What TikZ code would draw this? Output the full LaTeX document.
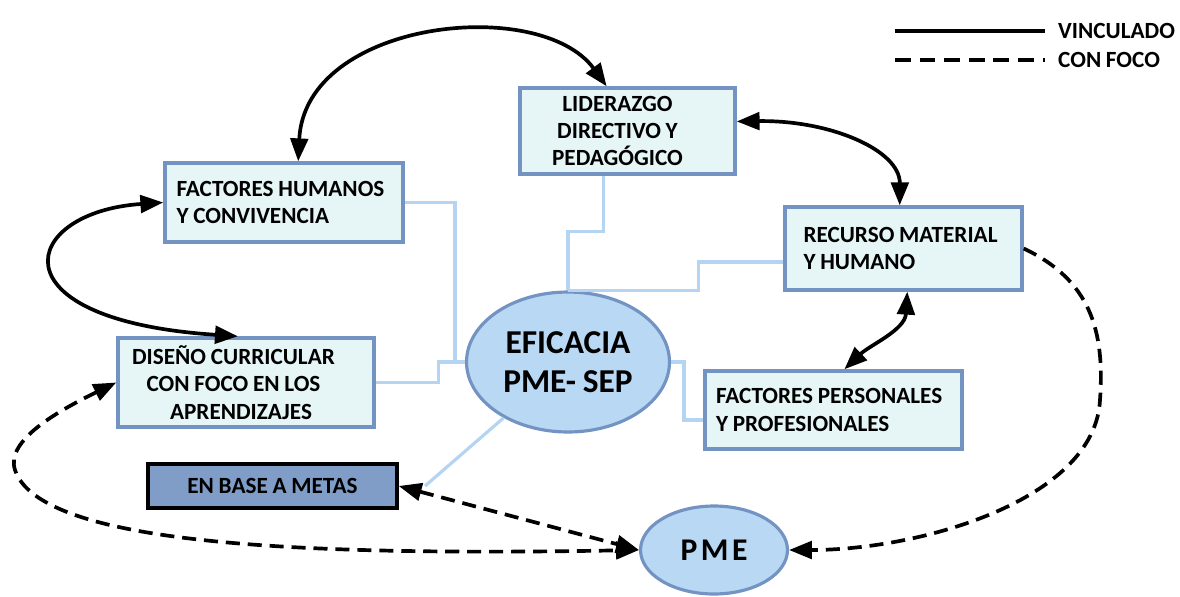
\documentclass[tikz,border=0pt]{standalone}
\usepackage{fontspec}
\setmainfont{Carlito}[WordSpace=0.9]
\usetikzlibrary{shapes.geometric, arrows.meta}

\definecolor{bordeC}{HTML}{7393C3}
\definecolor{fondoC}{HTML}{E6F6F7}
\definecolor{fondoE}{HTML}{B9D8F3}
\definecolor{fondoM}{HTML}{809DC8}
\definecolor{enlaceC}{HTML}{B4D4F2}

\tikzset{
  caja/.style={draw=bordeC, line width=2pt, fill=fondoC, inner xsep=0pt,
    font=\fontsize{13.2}{15.5}\selectfont\bfseries},
  elipse/.style={ellipse, draw=bordeC, line width=1.8pt, fill=fondoE, inner sep=0pt},
  enlace/.style={draw=enlaceC, line width=1.8pt},
  punta/.tip={Triangle[length=13pt,width=10pt]},
  vinc/.style={line width=2.1pt, punta-punta},
  foco/.style={line width=2.1pt, dash pattern=on 8pt off 4.5pt},
}

\begin{document}
\begin{tikzpicture}[x=0.02cm, y=-0.02cm]
\useasboundingbox (0,0) rectangle (1180,596);

\coordinate (l1a) at (895,31);
\coordinate (l1b) at (1045,31);
\coordinate (l2a) at (895,60);
\coordinate (l2b) at (1045,60);
\coordinate (mp) at (425,486);

\node[caja, minimum width=4.76cm, minimum height=1.58cm, text width=4.3cm, align=flush left] (fh) at (284,202.5) {FACTORES HUMANOS\\Y CONVIVENCIA};
\node[caja, minimum width=4.3cm, minimum height=1.72cm, text width=4.3cm, align=flush center] (lid) at (627.5,131) {\hspace*{-0.4cm}LIDERAZGO\\\hspace*{-0.4cm}DIRECTIVO Y\\\hspace*{-0.4cm}PEDAGÓGICO};
\node[caja, minimum width=4.74cm, minimum height=1.66cm, text width=4.0cm, align=flush left] (rec) at (903.5,248.5) {RECURSO MATERIAL\\Y HUMANO};
\node[caja, minimum width=5.12cm, minimum height=1.78cm, text width=5.12cm, align=flush center] (dis) at (246,382.5) {\hspace*{-0.5cm}DISEÑO CURRICULAR\\\hspace*{-0.5cm}CON FOCO EN LOS\\\hspace*{-0.2cm}APRENDIZAJES};
\node[caja, minimum width=5.14cm, minimum height=1.56cm, text width=4.7cm, align=flush left] (fp) at (833.5,410) {FACTORES PERSONALES\\Y PROFESIONALES};
\node[caja, draw=black, fill=fondoM, minimum width=4.98cm, minimum height=0.88cm, text width=4.98cm, align=flush center] (meta) at (272.5,486) {EN BASE A METAS};

\node[elipse, minimum width=4.06cm, minimum height=2.8cm, align=center, font=\fontsize{19}{22.5}\selectfont\bfseries] (efi) at (568,362) {EFICACIA\\PME-\ SEP};
\node[elipse, minimum width=2.94cm, minimum height=1.76cm, font=\fontsize{18}{20}\selectfont\bfseries] (pme) at (714,550) {P\kern2pt M\kern2pt E};

% enlaces con la eficacia
\draw[enlace] (fh.east) -| ([xshift=-0.2cm]efi.west) -- (efi.west);
\draw[enlace] (dis.east) -- ++(63,0) |- (efi.west);
\draw[enlace] ([xshift=-0.48cm]lid.south) -- ++(0,56) -| (efi.north);
\draw[enlace] ([yshift=-0.27cm]rec.west) -- ++(-85,0) |- (efi.north);
\draw[enlace] (efi.east) -- ++(13,0) |- ([yshift=-0.2cm]fp.west);
\draw[enlace] (mp) -- (efi);

% vinculado
\draw[vinc] (fh.71) .. controls (305,20) and (540,-5) .. (lid.115);
\draw[vinc] (fh.west) .. controls (20,212) and (-10,320) .. (dis.100);
\draw[vinc] (lid.5) .. controls (830,120) and (900,150) .. (rec.95);
\draw[vinc] (rec.-85) .. controls (905,330) and (870,345) .. (fp.75);

% con foco
\draw[foco, -punta] (rec.east) .. controls (1090,280) and (1105,330) .. (1100,400) .. controls (1095,500) and (920,550) .. (pme.east);
\draw[foco, punta-punta] (dis.west) .. controls (60,410) and (5,440) .. (15,470) .. controls (40,545) and (300,556) .. (pme.west);
\draw[foco, punta-punta] (meta.east) -- (pme.west);

% leyenda
\draw[line width=2.4pt] (l1a) -- (l1b);
\draw[line width=2.4pt, dash pattern=on 9pt off 5pt] (l2a) -- (l2b);
\node[anchor=west, font=\fontsize{13.2}{15}\selectfont\bfseries] (lv) at (1052,31) {VINCULADO};
\node[anchor=west, font=\fontsize{13.2}{15}\selectfont\bfseries] (lf) at (1052,60) {CON FOCO};
\end{tikzpicture}
\end{document}
